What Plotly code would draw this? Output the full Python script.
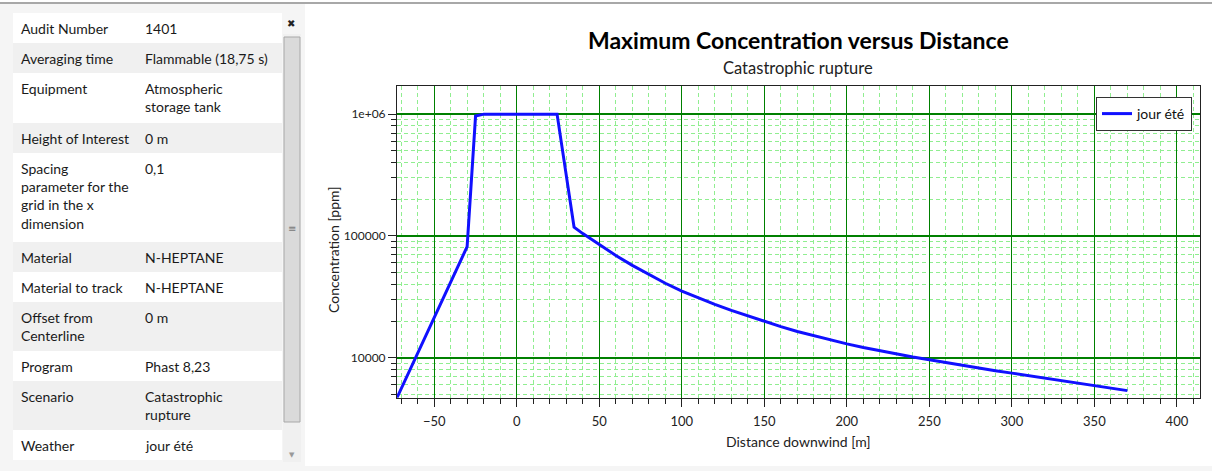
import plotly.graph_objects as go

# ---------------- data ----------------
distance_m = [-72.6, -30.1, -25.0, -20.0, 24.4, 34.7, 40, 50, 60, 70, 80, 90, 100, 110, 120,
              130, 140, 150, 160, 170, 180, 190, 200, 210, 220, 230, 240, 250, 260,
              270, 280, 290, 300, 310, 320, 330, 340, 350, 360, 370]
concentration_ppm = [4700, 81600, 964000, 1000000, 1000000, 118000, 104500, 84700, 69200,
                     57300, 48100, 40900, 35300, 30900, 27400, 24500, 22100, 19900, 18000,
                     16440, 15140, 14000, 13000, 12130, 11380, 10720, 10140, 9640, 9120,
                     8650, 8220, 7830, 7480, 7130, 6790, 6490, 6190, 5920, 5640, 5370]
series_name = "jour été"

x_tick_vals = [-50, 0, 50, 100, 150, 200, 250, 300, 350, 400]
y_tick_vals = [1e4, 1e5, 1e6]
y_tick_text = ["10000", "100000", "1e+06"]
y_minor_vals = [m * 10 ** e for e in range(3, 7) for m in range(2, 10)]

prop_labels = ["Audit Number", "Averaging time", "Equipment", "Height of Interest",
               "Spacing<br>parameter for the<br>grid in the x<br>dimension", "Material",
               "Material to track", "Offset from<br>Centerline", "Program", "Scenario", "Weather"]
prop_values = ["1401", "Flammable (18,75 s)", "Atmospheric<br>storage tank", "0 m", "0,1",
               "N-HEPTANE", "N-HEPTANE", "0 m", "Phast 8,23", "Catastrophic<br>rupture", "jour été"]
row_edges = [13, 43, 73, 123, 153, 242, 272, 302, 351, 381, 430, 460]

# ---------------- figure ----------------
W, H = 1212, 471
FONT = "Lato"
MAJOR_GRID = "#008000"
MINOR_GRID = "#90ee90"


def px(x):
    return x / W


def py(y):
    return 1 - y / H


fig = go.Figure()
fig.add_trace(go.Scatter(x=distance_m, y=concentration_ppm, mode="lines", name=series_name,
                         line=dict(color="#1010ff", width=3)))

shapes = []
annotations = []

# panel backgrounds
shapes.append(dict(type="rect", xref="paper", yref="paper", x0=0, x1=px(302), y0=0, y1=py(4),
                   fillcolor="#f5f5f5", line_width=0, layer="below"))
shapes.append(dict(type="rect", xref="paper", yref="paper", x0=px(305), x1=1, y0=py(466), y1=py(4),
                   fillcolor="#ffffff", line_width=0, layer="below"))
shapes.append(dict(type="rect", xref="paper", yref="paper", x0=0, x1=1, y0=py(4), y1=1,
                   fillcolor="#ffffff", line_width=0, layer="below"))
shapes.append(dict(type="line", xref="paper", yref="paper", x0=0, x1=1, y0=py(3), y1=py(3),
                   line=dict(color="#a8a8a8", width=2)))

# table rows
for i in range(len(prop_labels)):
    top, bot = row_edges[i], row_edges[i + 1]
    shapes.append(dict(type="rect", xref="paper", yref="paper", x0=px(13), x1=px(282),
                       y0=py(bot), y1=py(top),
                       fillcolor="#ffffff" if i % 2 == 0 else "#f0f0f0", line_width=0, layer="below"))
    for xpos, txt in ((19, prop_labels[i]), (143, prop_values[i])):
        annotations.append(dict(xref="paper", yref="paper", x=px(xpos), y=py(top + 5), text=txt,
                                showarrow=False, xanchor="left", yanchor="top", align="left",
                                font=dict(family=FONT, size=14, color="#1a1a1a")))

# scrollbar
shapes.append(dict(type="rect", xref="paper", yref="paper", x0=px(283), x1=px(301), y0=py(462), y1=py(34),
                   fillcolor="#f0f0f0", line_width=0, layer="below"))
shapes.append(dict(type="rect", xref="paper", yref="paper", x0=px(284), x1=px(300), y0=py(422), y1=py(37),
                   fillcolor="#dadada", line=dict(color="#a8a8a8", width=1), layer="below"))
annotations.append(dict(xref="paper", yref="paper", x=px(291), y=py(24), text="✖", showarrow=False,
                        xanchor="center", yanchor="middle",
                        font=dict(family="DejaVu Sans", size=10, color="#222")))
annotations.append(dict(xref="paper", yref="paper", x=px(292), y=py(228), text="≡", showarrow=False,
                        xanchor="center", yanchor="middle",
                        font=dict(family="DejaVu Sans", size=10, color="#777")))
annotations.append(dict(xref="paper", yref="paper", x=px(292), y=py(455), text="▼", showarrow=False,
                        xanchor="center", yanchor="middle",
                        font=dict(family="DejaVu Sans", size=7, color="#999")))

# titles
title_specs = [
    (798, 40, "<b>Maximum Concentration versus Distance</b>", 23, "#000", 0),
    (798, 68, "Catastrophic rupture", 16.5, "#222", 0),
    (798, 441, "Distance downwind [m]", 14, "#222", 0),
    (333, 250, "Concentration [ppm]", 14, "#222", -90),
]
for xx, yy, txt, sz, col, ang in title_specs:
    annotations.append(dict(xref="paper", yref="paper", x=px(xx), y=py(yy), text=txt,
                            showarrow=False, xanchor="center", yanchor="middle", textangle=ang,
                            font=dict(family=FONT, size=sz, color=col)))

fig.update_layout(
    width=W, height=H,
    margin=dict(l=0, r=0, t=0, b=0),
    paper_bgcolor="#f5f5f5",
    plot_bgcolor="#ffffff",
    shapes=shapes,
    annotations=annotations,
    showlegend=True,
    legend=dict(x=px(1192), y=py(97), xanchor="right", yanchor="top",
                bgcolor="#ffffff", bordercolor="#333333", borderwidth=1,
                font=dict(family=FONT, size=14, color="#111"), itemwidth=30),
    xaxis=dict(domain=[px(397), px(1200)], range=[-72.6, 414],
               tickmode="array", tickvals=x_tick_vals,
               showgrid=True, gridcolor=MAJOR_GRID, gridwidth=1.3,
               zeroline=False, showline=True, linecolor="#222", linewidth=1, mirror=True,
               ticks="outside", ticklen=8, tickcolor="#222", ticklabelstandoff=4,
               tickfont=dict(family=FONT, size=13, color="#222"),
               minor=dict(dtick=10, tick0=0, showgrid=True, gridcolor=MINOR_GRID, griddash="4px,3px",
                          gridwidth=1, ticks="outside", ticklen=5, tickcolor="#222")),
    yaxis=dict(domain=[py(397.7), py(86)], type="log", range=[3.672, 6.231],
               tickmode="array", tickvals=y_tick_vals, ticktext=y_tick_text,
               showgrid=True, gridcolor=MAJOR_GRID, gridwidth=1.5,
               zeroline=False, showline=True, linecolor="#222", linewidth=1, mirror=True,
               ticks="outside", ticklen=8, tickcolor="#222",
               tickfont=dict(family=FONT, size=12, color="#222"),
               minor=dict(tickmode="array", tickvals=y_minor_vals, showgrid=True,
                          gridcolor=MINOR_GRID, griddash="4px,3px", gridwidth=1,
                          ticks="outside", ticklen=5, tickcolor="#222")),
)

fig.write_html("out.html", config={"displayModeBar": False},
               post_script="document.body.style.margin='0px';")
